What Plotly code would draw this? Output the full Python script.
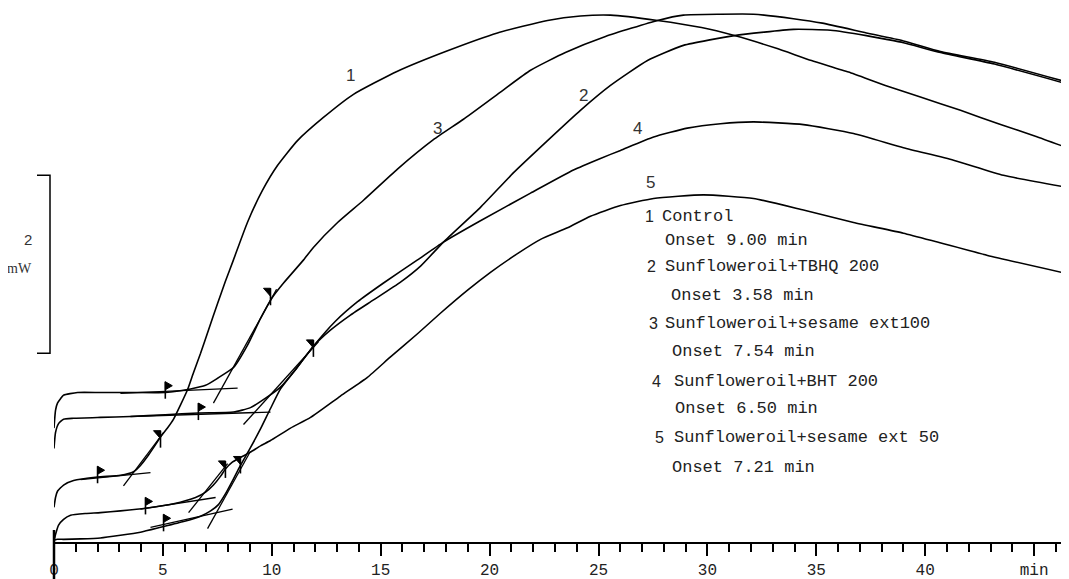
import plotly.graph_objects as go

# ---------------- data (time in min, heat flow in mW) ----------------
curve_1_t = [0, 0.07, 0.16, 0.44, 0.90, 2.00, 3.05, 3.65, 3.97, 4.29, 4.57, 4.89, 5.21, 5.49, 5.81,
             6.13, 6.40, 6.73, 7.09, 7.51, 7.87, 8.24, 8.88, 9.57, 10.26, 11.18, 12.37, 13.75, 15.77,
             18.07, 20.36, 22.66, 24.17, 25.55, 27.71, 29.73, 31.24, 33.13, 34.78, 36.48, 38.17,
             39.78, 41.62, 43.46, 45.06, 46.62]
curve_1_mw = [0.39, 0.50, 0.57, 0.64, 0.69, 0.73, 0.75, 0.79, 0.86, 0.96, 1.06, 1.18, 1.28, 1.38, 1.54,
              1.71, 1.90, 2.12, 2.38, 2.68, 2.93, 3.17, 3.59, 3.95, 4.23, 4.51, 4.77, 5.03, 5.29,
              5.52, 5.72, 5.86, 5.91, 5.92, 5.86, 5.78, 5.69, 5.55, 5.41, 5.28, 5.13,
              5.00, 4.85, 4.69, 4.56, 4.42]

curve_3_t = [0, 0.07, 0.16, 0.30, 0.44, 1.08, 2.13, 3.51, 5.11, 6.27, 6.96, 7.51, 8.24, 8.88, 9.48,
             10.03, 10.54, 11.46, 11.91, 13.02, 14.21, 15.77, 17.42, 18.80, 20.36, 21.88, 23.48,
             25.32, 27.71, 28.90, 30.60, 32.12, 33.95, 35.28, 37.30, 39.00, 40.70, 43.18, 46.62]
curve_3_mw = [1.28, 1.48, 1.56, 1.61, 1.65, 1.68, 1.68, 1.68, 1.68, 1.72, 1.76, 1.84, 1.96, 2.21, 2.51,
              2.75, 2.91, 3.17, 3.31, 3.59, 3.84, 4.19, 4.52, 4.75, 5.03, 5.30, 5.50,
              5.68, 5.86, 5.92, 5.93, 5.93, 5.88, 5.83, 5.72, 5.63, 5.51, 5.39, 5.16]

curve_4_t = [0, 0.07, 0.21, 0.44, 0.90, 2.13, 3.51, 5.11, 6.63, 8.24, 9.02, 9.80, 10.40, 11.13, 11.91,
             12.92, 13.94, 15.13, 16.69, 17.88, 19.58, 21.88, 23.85, 25.09, 26.01, 27.53, 29.08,
             30.60, 32.12, 34.41, 36.71, 39.00, 41.30, 43.59, 46.62]
curve_4_mw = [1.05, 1.23, 1.33, 1.38, 1.39, 1.40, 1.41, 1.43, 1.45, 1.46, 1.51, 1.63, 1.74, 1.95, 2.20,
              2.48, 2.70, 2.91, 3.17, 3.37, 3.61, 3.92, 4.18, 4.31, 4.40, 4.55, 4.65,
              4.70, 4.72, 4.69, 4.59, 4.43, 4.29, 4.12, 3.98]

curve_2_t = [0, 0.16, 0.44, 1.22, 2.13, 3.05, 3.97, 4.89, 5.95, 6.73, 7.19, 7.55, 7.87, 8.20, 8.56,
             9.02, 9.48, 9.94, 10.40, 11.13, 11.91, 12.69, 13.61, 14.67, 15.91, 16.83, 17.88, 19.58,
             21.10, 22.66, 24.17, 25.55, 27.25, 28.90, 31.24, 33.95, 35.65, 37.30, 38.17, 39.00,
             40.70, 43.18, 46.62]
curve_2_mw = [0.02, 0.03, 0.03, 0.035, 0.045, 0.075, 0.11, 0.165, 0.23, 0.29, 0.35, 0.42, 0.54, 0.69, 0.86,
              1.06, 1.27, 1.50, 1.72, 1.95, 2.20, 2.38, 2.55, 2.72, 2.92, 3.10, 3.37, 3.76,
              4.15, 4.51, 4.85, 5.13, 5.41, 5.58, 5.69, 5.76, 5.75, 5.69, 5.65, 5.61,
              5.50, 5.37, 5.14]

curve_5_t = [0, 0.07, 0.21, 0.44, 0.76, 1.45, 2.13, 3.05, 4.20, 5.49, 6.50, 6.96, 7.32, 7.65, 7.87,
             8.20, 8.56, 9.02, 9.48, 9.94, 10.86, 11.78, 13.15, 14.39, 15.45, 16.69, 17.74, 18.99,
             20.04, 21.28, 22.34, 23.58, 24.63, 26.01, 27.53, 29.82, 32.12, 34.41, 36.71, 39.00,
             40.56, 42.86, 46.62]
curve_5_mw = [0.01, 0.085, 0.19, 0.255, 0.30, 0.32, 0.33, 0.35, 0.38, 0.43, 0.50, 0.56, 0.64, 0.74, 0.82,
              0.90, 0.95, 1.01, 1.08, 1.14, 1.28, 1.40, 1.64, 1.85, 2.08, 2.34, 2.57, 2.83,
              3.03, 3.24, 3.40, 3.53, 3.66, 3.78, 3.86, 3.90, 3.86, 3.73, 3.59, 3.47,
              3.37, 3.22, 3.01]

# onset construction lines (start/end of each tangent)
tangent_t = [[3.05, 8.43], [7.32, 10.22], [3.51, 9.94], [8.70, 12.14], [1.22, 4.43],
             [3.19, 5.03], [3.97, 7.42], [6.18, 7.97], [4.43, 8.20], [7.05, 9.02]]
tangent_mw = [[1.67, 1.73], [1.56, 2.84], [1.41, 1.46], [1.32, 2.25], [0.70, 0.78],
              [0.63, 1.23], [0.37, 0.50], [0.33, 0.88], [0.165, 0.37], [0.15, 1.02]]

# flag markers (pole foot), side: +1 pennant right, -1 pennant left
flag_t = [2.00, 5.11, 6.63, 4.20, 5.03, 4.89, 9.94, 11.91, 7.87, 8.56]
flag_mw = [0.66, 1.61, 1.37, 0.31, 0.12, 1.06, 2.66, 2.08, 0.72, 0.77]
flag_side = [1, 1, 1, 1, 1, -1, -1, -1, -1, -1]

curve_labels = ["1", "3", "2", "4", "5"]
curve_label_t = [13.61, 17.61, 24.31, 26.79, 27.39]
curve_label_mw = [5.24, 4.65, 5.02, 4.65, 4.04]

legend_numbers = ["1", "2", "3", "4", "5"]
legend_names = ["Control", "Sunfloweroil+TBHQ 200", "Sunfloweroil+sesame ext100",
                "Sunfloweroil+BHT 200", "Sunfloweroil+sesame ext 50"]
legend_onsets = ["Onset 9.00 min", "Onset 3.58 min", "Onset 7.54 min",
                 "Onset 6.50 min", "Onset 7.21 min"]

x_tick_vals = [0, 5, 10, 15, 20, 25, 30, 35, 40, 45]
x_tick_text = ["0", "5", "10", "15", "20", "25", "30", "35", "40", "min"]

scale_bar_mw = 2.0
scale_bar_base_mw = 2.12

# ---------------- layout geometry ----------------
PAGE_OFF = 8          # default body margin of the html page
VIEW_W, VIEW_H = 1069, 579
W = VIEW_W - PAGE_OFF
H = VIEW_H - PAGE_OFF
AXIS_X0 = 54          # screen x of t = 0
AXIS_Y = 542          # screen y of the time axis
ML = AXIS_X0 - PAGE_OFF
MB = VIEW_H - AXIS_Y
PX_MIN = 21.78
PX_MW = 89.0
PLOT_W = W - ML
PLOT_H = H - MB
X_MAX = PLOT_W / PX_MIN
Y_MAX = PLOT_H / PX_MW


def paper(sx, sy):
    """screen pixel -> paper coordinates"""
    return (sx - AXIS_X0) / PLOT_W, (AXIS_Y - sy) / PLOT_H


fig = go.Figure()

curve_line = dict(color="black", width=1.6, shape="spline", smoothing=0.5)
for name, t, y in [("1", curve_1_t, curve_1_mw), ("3", curve_3_t, curve_3_mw),
                   ("4", curve_4_t, curve_4_mw), ("2", curve_2_t, curve_2_mw),
                   ("5", curve_5_t, curve_5_mw)]:
    fig.add_trace(go.Scatter(x=t, y=y, mode="lines", line=curve_line, name=name,
                             hoverinfo="skip"))

tx, ty = [], []
for (a, b), (c, d) in zip(tangent_t, tangent_mw):
    tx += [a, b, None]
    ty += [c, d, None]
fig.add_trace(go.Scatter(x=tx, y=ty, mode="lines", line=dict(color="black", width=1.3),
                         hoverinfo="skip"))

POLE = 17 / PX_MW
PW = 7 / PX_MIN
PH = 8 / PX_MW
pole_x, pole_y, pen_x, pen_y = [], [], [], []
for t0, y0, s in zip(flag_t, flag_mw, flag_side):
    top = y0 + POLE
    pole_x += [t0, t0, None]
    pole_y += [y0, top, None]
    if s > 0:
        pen_x += [t0, t0 + PW, t0, t0, None]
        pen_y += [top, top - PH / 2, top - PH, top, None]
    else:
        pen_x += [t0, t0 - PW, t0, t0, None]
        pen_y += [top, top, top - PH, top, None]
fig.add_trace(go.Scatter(x=pole_x, y=pole_y, mode="lines", line=dict(color="black", width=1.6),
                         hoverinfo="skip"))
fig.add_trace(go.Scatter(x=pen_x, y=pen_y, mode="lines", fill="toself", fillcolor="black",
                         line=dict(color="black", width=1), hoverinfo="skip"))

shapes = []
# long zero tick
shapes.append(dict(type="line", xref="paper", yref="paper", x0=0, x1=0,
                   y0=-MB / PLOT_H, y1=12 / PLOT_H, line=dict(color="black", width=2.5)))
# scale bar
bx, _ = paper(50, 0)
tx0, _ = paper(37, 0)
yb = scale_bar_base_mw / Y_MAX
yt = (scale_bar_base_mw + scale_bar_mw) / Y_MAX
shapes.append(dict(type="path", xref="paper", yref="paper",
                   path=f"M {tx0},{yt} L {bx},{yt} L {bx},{yb} L {tx0},{yb}",
                   line=dict(color="black", width=1.5)))

annotations = []
for lab, t, y in zip(curve_labels, curve_label_t, curve_label_mw):
    annotations.append(dict(x=t, y=y, xref="x", yref="y", text=lab, showarrow=False,
                            font=dict(family="Liberation Sans", size=17, color="#333")))

num_pos = [(643, 217), (645, 266), (647, 323), (650, 381), (653, 437)]
name_pos = [(660, 217), (663, 266), (663, 323), (672, 381), (672, 437)]
onset_pos = [(663, 241), (669, 295), (670, 351), (673, 408), (670, 467)]
mono = dict(family="Liberation Mono", size=17, color="#222")
for n, nm, on, p1, p2, p3 in zip(legend_numbers, legend_names, legend_onsets,
                                  num_pos, name_pos, onset_pos):
    for txt, (sx, sy), f in [(n, p1, dict(family="Liberation Sans", size=16, color="#222")),
                             (nm, p2, mono), (on, p3, mono)]:
        x, y = paper(sx, sy)
        annotations.append(dict(x=x, y=y, xref="paper", yref="paper", text=txt,
                                showarrow=False, xanchor="left", yanchor="middle", font=f))

x, y = paper(33, 240)
annotations.append(dict(x=x, y=y, xref="paper", yref="paper", text=f"{scale_bar_mw:g}",
                        showarrow=False, xanchor="right", borderpad=0,
                        font=dict(family="Liberation Sans", size=15, color="#333")))
x, y = paper(33, 268)
annotations.append(dict(x=x, y=y, xref="paper", yref="paper", text="mW",
                        showarrow=False, xanchor="right", borderpad=0,
                        font=dict(family="Liberation Serif", size=14, color="#333")))

fig.update_layout(
    width=W, height=H, template="none",
    paper_bgcolor="white", plot_bgcolor="white",
    margin=dict(l=ML, r=0, t=0, b=MB, pad=0),
    showlegend=False,
    shapes=shapes,
    annotations=annotations,
    xaxis=dict(range=[0, X_MAX], tickmode="array", tickvals=x_tick_vals, ticktext=x_tick_text,
               ticks="outside", ticklen=12, tickwidth=1.5, tickcolor="black",
               showline=True, linewidth=2, linecolor="black", showgrid=False, zeroline=False,
               automargin=False, ticklabelstandoff=0,
               tickfont=dict(family="Liberation Mono", size=16, color="#222"),
               minor=dict(dtick=1, tick0=0, ticks="outside", ticklen=8, tickwidth=1.5,
                          tickcolor="black", showgrid=False)),
    yaxis=dict(range=[0, Y_MAX], visible=False, showgrid=False, zeroline=False,
               automargin=False),
)

fig.write_html("out.html")
